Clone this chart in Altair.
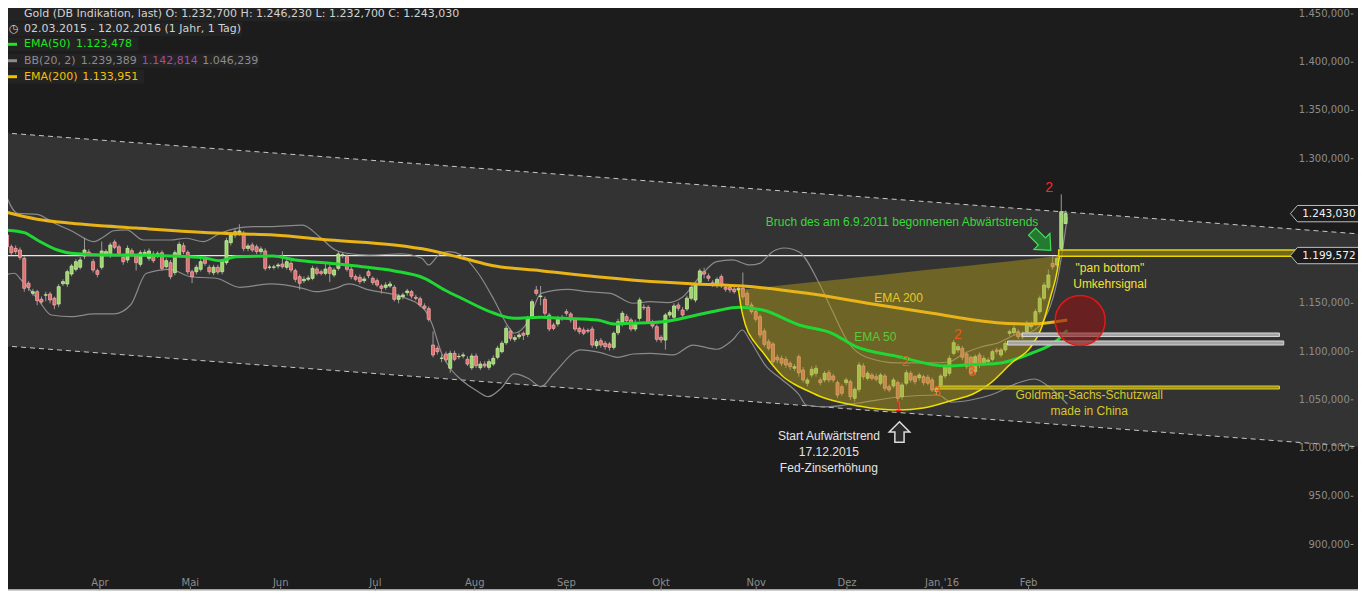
import altair as alt
import pandas as pd

# ---------------- candle data (Gold, daily, 02.03.2015 - 12.02.2016) ----------------
opens = [1220.9,1208.7,1207.0,1205.3,1196.7,1170.8,1160.4,1162.1,1154.2,1158.5,
1159.7,1155.3,1149.3,1170.4,1170.1,1180.4,1185.3,1187.4,1199.1,1203.2,
1193.2,1183.9,1187.4,1201.2,1200.1,1213.6,1208.7,1197.7,1195.0,1204.6,
1199.1,1190.5,1201.2,1196.7,1201.2,1201.9,1202.5,1188.0,1192.2,1181.8,
1199.4,1209.8,1202.9,1182.8,1182.8,1185.3,1196.0,1187.4,1181.8,1187.4,
1182.8,1192.2,1212.9,1220.9,1223.3,1222.6,1207.0,1210.5,1208.7,1203.6,
1204.3,1187.4,1187.4,1188.7,1190.8,1187.4,1191.5,1183.9,1177.7,1173.5,
1175.0,1176.0,1185.6,1182.8,1181.1,1187.0,1179.4,1186.3,1200.1,1198.4,
1185.3,1177.7,1177.0,1173.5,1182.8,1176.0,1173.5,1168.0,1166.6,1168.0,
1166.6,1154.2,1156.9,1161.1,1162.1,1156.3,1154.8,1147.3,1144.5,1106.8,
1103.4,1093.0,1097.5,1082.7,1098.2,1094.7,1095.5,1092.0,1083.3,1095.4,
1083.3,1087.1,1083.7,1087.1,1094.1,1099.9,1109.2,1121.4,1112.7,1115.4,
1119.0,1117.9,1136.9,1163.9,1157.0,1154.2,1137.9,1127.6,1128.6,1134.5,
1141.4,1139.0,1132.8,1124.1,1122.4,1121.9,1123.4,1106.1,1111.3,1108.6,
1107.9,1104.4,1119.6,1128.6,1136.2,1132.8,1123.4,1134.5,1146.0,1145.9,
1131.0,1125.8,1114.8,1112.0,1137.9,1135.6,1148.3,1143.1,1144.2,1155.3,
1153.5,1171.8,1182.8,1178.4,1171.4,1169.0,1177.7,1166.6,1166.6,1164.9,
1163.9,1165.6,1160.4,1148.3,1141.4,1136.2,1121.4,1110.3,1107.9,1094.1,
1093.0,1092.0,1087.9,1082.7,1094.7,1080.9,1067.2,1075.7,1077.5,1070.6,
1070.6,1078.1,1074.7,1067.8,1063.6,1067.8,1068.8,1051.6,1060.9,1085.1,
1072.3,1075.7,1074.0,1067.2,1074.7,1063.6,1064.4,1067.8,1053.2,1067.2,
1077.5,1074.0,1072.9,1074.0,1073.4,1070.6,1058.5,1065.4,1074.7,1077.5,
1098.2,1101.7,1103.4,1097.5,1094.1,1079.2,1096.5,1087.9,1089.6,1092.0,
1101.7,1096.5,1101.7,1119.0,1119.6,1120.6,1115.4,1120.6,1125.8,1129.3,
1141.4,1155.3,1166.6,1191.5,1189.8,1207.0,1232.7]
closes = [1208.7,1202.5,1203.6,1197.7,1165.6,1166.6,1162.1,1152.8,1151.4,1158.9,
1153.5,1148.3,1167.3,1172.5,1182.8,1188.7,1193.2,1195.0,1205.3,1201.2,
1184.6,1180.1,1204.3,1203.6,1210.5,1208.1,1201.9,1193.2,1207.0,1200.1,
1192.2,1202.5,1203.0,1204.3,1194.3,1199.1,1186.3,1194.3,1177.7,1202.5,
1211.2,1203.6,1182.8,1177.7,1187.4,1193.2,1191.5,1182.8,1187.4,1182.5,
1193.2,1215.0,1220.9,1224.3,1225.0,1207.0,1209.5,1205.3,1203.6,1206.4,
1186.3,1187.6,1187.8,1189.8,1188.0,1193.2,1184.6,1175.0,1170.8,1175.0,
1176.3,1186.3,1181.1,1181.1,1185.6,1181.1,1184.6,1201.2,1200.3,1185.3,
1177.7,1175.0,1172.5,1175.3,1178.7,1171.5,1169.0,1165.6,1169.0,1170.1,
1154.2,1157.6,1158.7,1162.8,1157.6,1155.2,1148.3,1144.9,1133.5,1096.5,
1099.9,1093.3,1091.3,1098.2,1092.0,1094.9,1096.5,1087.1,1095.4,1085.4,
1087.1,1085.1,1089.5,1093.0,1103.4,1108.6,1124.2,1113.8,1114.4,1117.2,
1116.9,1134.5,1151.7,1160.4,1157.6,1139.7,1123.4,1124.1,1134.5,1134.8,
1139.7,1132.8,1123.4,1120.6,1119.0,1121.2,1106.8,1110.3,1106.8,1105.1,
1104.4,1119.0,1131.0,1139.7,1132.0,1123.4,1130.0,1153.5,1145.5,1131.0,
1126.5,1112.7,1112.0,1137.9,1140.7,1147.3,1144.9,1137.9,1155.3,1166.6,
1169.0,1183.6,1180.4,1176.0,1169.8,1174.9,1168.3,1164.6,1163.9,1162.1,
1165.6,1156.9,1148.3,1141.4,1133.5,1117.2,1107.5,1103.4,1089.5,1091.3,
1087.9,1086.1,1084.4,1084.4,1078.0,1070.6,1070.6,1081.6,1082.7,1067.8,
1077.5,1070.6,1070.6,1055.0,1056.8,1070.6,1053.2,1060.9,1086.1,1074.0,
1077.5,1072.3,1071.3,1075.7,1061.9,1060.2,1070.6,1051.6,1065.4,1078.1,
1070.6,1068.8,1075.7,1067.8,1067.2,1060.2,1062.0,1074.7,1084.4,1093.0,
1109.2,1105.1,1094.1,1084.4,1077.5,1094.7,1086.1,1093.0,1091.3,1099.9,
1099.9,1101.7,1108.6,1120.6,1124.1,1115.4,1119.0,1129.3,1128.6,1141.4,
1155.3,1169.0,1179.4,1188.0,1196.7,1245.0,1243.03]
highs = [1224,1211,1210,1208,1199,1173,1165,1164,1157,1162,
1162,1157,1170,1175,1185,1191,1196,1198,1218,1206,
1196,1186,1214,1206,1213,1216,1211,1200,1210,1207,
1201,1205,1206,1207,1204,1204,1205,1197,1195,1205,
1214,1213,1205,1185,1190,1196,1199,1190,1190,1190,
1196,1218,1224,1227,1232,1225,1212,1213,1211,1209,
1207,1190,1190,1192,1204,1196,1194,1186,1180,1178,
1179,1189,1188,1185,1192,1190,1187,1204,1203,1201,
1188,1180,1180,1178,1185,1178,1176,1170,1172,1173,
1169,1160,1161,1165,1164,1159,1157,1150,1147,1121,
1106,1097,1100,1101,1101,1098,1099,1095,1098,1098,
1090,1090,1092,1096,1106,1111,1127,1124,1117,1120,
1121,1137,1154,1168,1168,1157,1140,1130,1137,1138,
1144,1141,1135,1126,1125,1124,1126,1113,1114,1111,
1110,1121,1134,1142,1139,1135,1133,1156,1149,1148,
1133,1128,1117,1140,1143,1150,1151,1146,1158,1169,
1171,1186,1187,1181,1174,1177,1180,1169,1169,1167,
1168,1182,1163,1151,1144,1139,1124,1113,1110,1097,
1096,1095,1090,1087,1097,1084,1073,1085,1086,1073,
1080,1081,1077,1070,1066,1073,1071,1063,1089,1088,
1080,1078,1077,1078,1077,1066,1073,1070,1068,1081,
1080,1076,1078,1076,1076,1073,1064,1077,1087,1096,
1112,1108,1106,1100,1096,1097,1099,1096,1094,1102,
1104,1104,1111,1123,1127,1123,1121,1132,1131,1144,
1158,1172,1185,1199,1200,1263,1246.23]
lows = [1206,1200,1201,1195,1162,1163,1158,1148,1149,1152,
1150,1144,1146,1168,1167,1178,1183,1185,1196,1199,
1182,1177,1185,1199,1197,1206,1199,1190,1192,1198,
1184,1188,1199,1194,1192,1197,1184,1186,1175,1179,
1197,1201,1180,1171,1180,1183,1189,1180,1179,1180,
1180,1190,1210,1218,1220,1204,1204,1203,1201,1201,
1184,1185,1185,1186,1186,1185,1182,1172,1164,1171,
1173,1174,1179,1179,1179,1172,1177,1184,1197,1183,
1175,1173,1170,1171,1176,1169,1167,1160,1164,1166,
1152,1150,1154,1158,1155,1153,1146,1143,1131,1094,
1097,1089,1089,1078,1090,1092,1093,1085,1081,1083,
1081,1083,1081,1085,1092,1098,1107,1111,1110,1113,
1112,1115,1135,1158,1148,1137,1121,1122,1126,1132,
1137,1130,1121,1118,1117,1119,1104,1103,1104,1102,
1101,1102,1117,1126,1129,1121,1121,1132,1143,1129,
1124,1110,1109,1102,1135,1133,1142,1135,1142,1153,
1151,1169,1176,1173,1167,1166,1166,1162,1161,1160,
1161,1154,1146,1139,1131,1114,1105,1101,1087,1088,
1085,1083,1081,1080,1074,1068,1064,1073,1074,1065,
1068,1068,1068,1052,1054,1065,1050,1048,1058,1071,
1070,1070,1069,1065,1059,1058,1062,1048,1050,1065,
1068,1066,1070,1065,1065,1058,1055,1063,1072,1075,
1096,1099,1091,1082,1075,1076,1083,1085,1087,1090,
1097,1094,1099,1116,1117,1113,1113,1118,1123,1127,
1139,1153,1164,1185,1187,1205,1232.7]

# ---------------- indicator lines ----------------
ema50_idx = [-0.6,4,7,11.7,15,22.5,30,38,45.6,49.5,53.2,61.8,67,75,82.5,90,97,101.7,
             105.6,113.2,117.8,124,129.4,137.2,141,144.9,152.5,160.3,165,170.2,175.6,
             184.1,191.7,197.3,207.2,218,222.6,230.3,238,244.1,246.4]
ema50_val = [1226.1,1223.3,1215.7,1205.3,1201.9,1200.1,1200.1,1199.1,1197.3,1194.2,1198.4,
             1199.1,1195.0,1191.5,1188.0,1183.6,1176.0,1163.9,1155.3,1139.7,1134.5,1135.6,
             1134.5,1132.8,1128.6,1129.3,1131.0,1137.9,1142.4,1145.9,1143.1,1127.6,1119.0,
             1105.1,1094.7,1085.1,1086.1,1087.9,1098.2,1112.0,1122.4]
ema200_idx = [-0.6,7,15,30,50,62,75,90,98,106,113,124,137,153,160,171,186,200,215,230,238,246.4]
ema200_val = [1245.0,1237.2,1233.0,1228.1,1222.6,1220.9,1215.7,1210.5,1205.3,1196.7,1189.0,
              1183.9,1177.7,1171.8,1170.1,1168.0,1160.4,1150.1,1139.7,1130.0,1128.6,1132.8]
bb_up_idx = [-0.6,2.4,7,11,14.9,20.2,22.5,24.8,27.8,31.7,37.9,41.7,45.6,49.5,53.2,57.1,61.1,
             68.7,72.6,76.3,78.6,84.1,91.8,96.4,98,100.3,102.6,105.6,109.5,113.2,116.5,117.8,
             121.1,124.1,130.3,134.9,140.2,145.5,149.5,153.4,157.1,161,164.9,168.6,172.6,174.9,
             177.9,180.6,184.1,188.7,191.7,195.6,199.6,207.2,214.8,218.7,222.6,226.3,230.3,
             234.2,237.9,241.8,244.1,246.4]
bb_up_val = [1265.8,1243.4,1242.3,1233.0,1225.3,1213.9,1219.1,1225.3,1226.1,1215.7,1215.7,
             1217.5,1213.9,1222.6,1227.8,1229.5,1229.5,1231.2,1219.1,1205.3,1202.2,1200.1,
             1201.2,1196.7,1189.8,1200.1,1203.6,1200.1,1181.2,1153.5,1125.8,1119.0,1131.0,
             1160.4,1164.6,1162.1,1160.4,1150.1,1151.7,1150.7,1156.9,1177.6,1193.2,1195.0,
             1189.8,1191.5,1203.6,1207.4,1203.2,1171.1,1143.1,1108.9,1094.4,1088.2,1088.2,
             1089.2,1098.5,1104.8,1108.9,1117.2,1120.3,1140.0,1174.2,1239.4]
bb_lo_idx = [-0.6,1.7,3.3,7,10.3,14.9,20.2,24.8,28.7,32.4,37.9,42.6,48.6,54.1,61.1,68.7,71.7,
             76.3,79.5,84.1,91.8,97.1,98.7,101,103.3,105.6,109.5,111.8,114.8,117.8,121.1,
             124.1,127.1,133.3,137.9,141.9,145.5,149.5,154.8,159.4,164.9,168.6,170.9,172.6,
             176.5,180.2,184.1,185.7,190.3,197.9,207.2,216.4,219.4,224,228.6,235.6,238.8,
             242.5,246.4]
bb_lo_val = [1179.4,1181.2,1174.2,1155.3,1137.9,1136.2,1139.0,1139.0,1148.3,1181.2,1185.3,
             1177.6,1176.0,1166.6,1170.1,1165.6,1162.1,1165.6,1170.1,1163.9,1156.9,1143.1,
             1129.3,1098.2,1080.9,1070.6,1058.4,1053.3,1061.9,1076.8,1072.3,1063.6,1077.5,
             1101.7,1098.9,1094.1,1097.5,1098.2,1096.5,1106.8,1102.4,1112.0,1122.4,1112.0,
             1084.3,1070.6,1055.0,1044.6,1042.6,1046.7,1052.9,1055.0,1047.7,1049.8,1055.0,
             1068.5,1071.6,1062.3,1045.7]

# trend channel (dashed lines)
channel_idx = [-3, 316]
channel_upper = [1327.5, 1221.4]
channel_lower = [1106.7, 1000.6]

# "pan bottom" bowl
bowl_idx = [170.0,170.5,171.6,173.7,175.6,177.9,180.2,182.9,185.7,188.7,193.3,197.9,202.6,
            207.2,212.9,219.9,224.5,228.0,233.7,237.9,240.2,242.5,244.1,244.6]
bowl_low = [1163.9,1148.3,1127.6,1110.0,1099.6,1086.1,1074.7,1066.4,1060.2,1054.0,1047.7,
            1043.6,1040.5,1039.5,1041.5,1049.8,1056.0,1065.4,1089.2,1104.8,1122.4,1156.6,
            1184.6,1199.1]
bowl_top = [1163.9,1164.1,1164.6,1165.6,1166.5,1167.6,1168.7,1170.0,1171.3,1172.7,1174.8,
            1177.0,1179.2,1181.5,1184.2,1187.4,1189.6,1191.2,1194.0,1196.0,1197.0,1198.2,
            1198.9,1199.1]

# horizontal levels
last_close = 1243.03
level_white = 1199.572
yellow_band = dict(k0=244.4, k1=299.4, v0=1198.8, v1=1205.3)
goldman_band = dict(k0=216.4, k1=295.7, v0=1061.2, v1=1064.3)
gray_bars = pd.DataFrame({"k0": [236.0, 232.5], "k1": [295.7, 296.7],
                          "v0": [1115.6, 1106.8], "v1": [1119.3, 1111.0]})

# axes (1.200,000 and 1.250,000 sit under the price tags in the original)
month_labels = ["Apr", "Mai", "Jun", "Jul", "Aug", "Sep", "Okt", "Nov", "Dez", "Jan '16", "Feb"]
month_pos = [21.6, 42.6, 63.6, 85.6, 108.7, 130.0, 152.0, 174.1, 195.2, 217.3, 237.4]
y_ticks = [900, 950, 1000, 1050, 1100, 1150, 1300, 1350, 1400, 1450]
y_labels = ["900,000", "950,000", "1.000,000", "1.050,000", "1.100,000", "1.150,000",
            "1.300,000", "1.350,000", "1.400,000", "1.450,000"]

# annotations
ann_text = ["Bruch des am 6.9.2011 begonnenen Abwärtstrends", "EMA 200", "EMA 50",
            "\"pan bottom\"", "Umkehrsignal", "Goldman-Sachs-Schutzwall", "made in China",
            "Start Aufwärtstrend", "17.12.2015", "Fed-Zinserhöhung"]
ann_k = [208.0, 207.2, 201.8, 256.3, 256.3, 251.5, 251.5, 191.0, 191.0, 191.0]
ann_v = [1234.4, 1155.6, 1115.1, 1186.7, 1170.1, 1055.0, 1038.4, 1012.5, 995.9, 979.3]
ann_color = ["#3ad83a", "#e8c828", "#5cc83c", "#f2e232", "#f2e232", "#d8c82a", "#d8c82a",
             "#e4e4e4", "#e4e4e4", "#e4e4e4"]
cnt_text = ["2", "2", "2", "3", "3", "1"]
cnt_k = [242.2, 221.0, 208.8, 224.2, 216.1, 207.2]
cnt_v = [1269.6, 1117.2, 1089.2, 1078.8, 1058.1, 1042.6]
cnt_color = ["#ff2424", "#f0561e", "#f0561e", "#f0561e", "#f0561e", "#ff3020"]

# legend block
leg_rows = [
    [("Gold (DB Indikation, last)  O: 1.232,700  H: 1.246,230  L: 1.232,700  C: 1.243,030", 16, "#d2d2d2")],
    [("◷", 1, "#d2d2d2"), ("02.03.2015 - 12.02.2016 (1 Jahr, 1 Tag)", 16, "#d2d2d2")],
    [("EMA(50)", 16, "#1ee61e"), ("1.123,478", 68, "#1ee61e")],
    [("BB(20, 2)", 16, "#8c8c8c"), ("1.239,389", 72.7, "#8c8c8c"), ("1.142,814", 133.7, "#a050a0"),
     ("1.046,239", 194.3, "#8c8c8c")],
    [("EMA(200)", 16, "#f5c000"), ("1.133,951", 74.3, "#f5c000")],
]
leg_row_y = [6.3, 21.3, 36.3, 52.7, 68.7]
leg_row_w = [345, 234, 130, 251, 136]
leg_dash_color = [None, None, "#1ee61e", "#8c8c8c", "#f5c000"]

# ---------------- build ----------------
W, H = 1350, 583
X = alt.Scale(domain=[1.384, 312.80], nice=False, zero=False)
Y = alt.Scale(domain=[851.8, 1456.2], nice=False, zero=False)

def xe(f):
    return alt.X(f, type="quantitative", scale=X, axis=None)

def ye(f):
    return alt.Y(f, type="quantitative", scale=Y, axis=None)

chan = pd.DataFrame({"k": channel_idx, "up": channel_upper, "lo": channel_lower})
band = alt.Chart(chan).mark_area(color="#333333").encode(x=xe("k"), y=ye("lo"), y2="up")
dash_up = alt.Chart(chan).mark_line(color="#c8c8c8", strokeWidth=1, strokeDash=[5, 4]).encode(
    x=xe("k"), y=ye("up"))
dash_lo = alt.Chart(chan).mark_line(color="#c8c8c8", strokeWidth=1, strokeDash=[5, 4]).encode(
    x=xe("k"), y=ye("lo"))

# y axis (labels inside the right edge, tick dash to their right)
ydf = pd.DataFrame({"v": y_ticks, "t": y_labels, "kl": 312.05, "k0": 312.25, "k1": 312.9})
ylab = alt.Chart(ydf).mark_text(font="DejaVu Sans", fontSize=10, color="#8c8c8c",
                                align="right", baseline="middle").encode(
    x=xe("kl"), y=ye("v"), text="t:N")
ytick = alt.Chart(ydf).mark_rule(color="#8c8c8c", strokeWidth=1).encode(
    x=xe("k0"), x2="k1", y=ye("v"))

# x axis (labels above the bottom line, ticks pointing up)
xdf = pd.DataFrame({"k": month_pos, "t": month_labels, "vl": 860.6, "v0": 852.5, "v1": 856.5})
xlab = alt.Chart(xdf).mark_text(font="DejaVu Sans", fontSize=10, color="#8c8c8c",
                                align="center", baseline="middle").encode(
    x=xe("k"), y=ye("vl"), text="t:N")
xtick = alt.Chart(xdf).mark_rule(color="#8c8c8c", strokeWidth=1).encode(
    x=xe("k"), y=ye("v0"), y2="v1")
xdom = alt.Chart(pd.DataFrame({"k0": [-3], "k1": [316], "v": [852.6]})).mark_rule(
    color="#d0d0d0", strokeWidth=2).encode(x=xe("k0"), x2="k1", y=ye("v"))

white = alt.Chart(pd.DataFrame({"k0": [-3], "k1": [244.4], "v": [level_white]})).mark_rule(
    color="#e8e8e8", strokeWidth=1.2).encode(x=xe("k0"), x2="k1", y=ye("v"))

bbu = alt.Chart(pd.DataFrame({"k": bb_up_idx, "v": bb_up_val})).mark_line(
    color="#8a8a8a", strokeWidth=1.2, interpolate="monotone").encode(x=xe("k"), y=ye("v"))
bbl = alt.Chart(pd.DataFrame({"k": bb_lo_idx, "v": bb_lo_val})).mark_line(
    color="#8a8a8a", strokeWidth=1.2, interpolate="monotone").encode(x=xe("k"), y=ye("v"))

n = len(closes)
cdf = pd.DataFrame({"i": list(range(n)), "open": opens, "close": closes, "high": highs, "low": lows})
cdf["dir"] = ["up" if c >= o else "down" for o, c in zip(opens, closes)]
wicks = alt.Chart(cdf).mark_rule(color="#9a9a9a", strokeWidth=1).encode(
    x=xe("i"), y=ye("low"), y2="high")
bodies = alt.Chart(cdf).mark_bar(size=3, strokeWidth=0.8).encode(
    x=xe("i"), y=ye("open"), y2="close",
    fill=alt.Fill("dir:N", scale=alt.Scale(domain=["up", "down"], range=["#9cd46c", "#e07070"]), legend=None),
    stroke=alt.Stroke("dir:N", scale=alt.Scale(domain=["up", "down"], range=["#c8f0a0", "#f4a8a8"]), legend=None))

bdf = pd.DataFrame({"k": bowl_idx, "lo": bowl_low, "top": bowl_top})
bowl = alt.Chart(bdf).mark_area(color="#b4a014", opacity=0.45).encode(
    x=xe("k"), y=ye("lo"), y2="top")
bowl_line = alt.Chart(bdf).mark_line(color="#f0e000", strokeWidth=1.5, interpolate="monotone").encode(
    x=xe("k"), y=ye("lo"))

e200 = alt.Chart(pd.DataFrame({"k": ema200_idx, "v": ema200_val})).mark_line(
    color="#e8b418", strokeWidth=3, interpolate="monotone").encode(x=xe("k"), y=ye("v"))
e50 = alt.Chart(pd.DataFrame({"k": ema50_idx, "v": ema50_val})).mark_line(
    color="#20d835", strokeWidth=3, interpolate="monotone").encode(x=xe("k"), y=ye("v"))

ybd = alt.Chart(pd.DataFrame([yellow_band])).mark_rect(
    fill="#8a7c12", fillOpacity=0.7, stroke="#e8d800", strokeWidth=1.5).encode(
    x=xe("k0"), x2="k1", y=ye("v0"), y2="v1")
gsd = alt.Chart(pd.DataFrame([goldman_band])).mark_rect(
    fill="#b8a820", fillOpacity=0.8, stroke="#e0d020", strokeWidth=1).encode(
    x=xe("k0"), x2="k1", y=ye("v0"), y2="v1")
gbars = alt.Chart(gray_bars).mark_rect(
    fill="#a4a4a4", stroke="#d8d8d8", strokeWidth=1).encode(
    x=xe("k0"), x2="k1", y=ye("v0"), y2="v1")

circle = alt.Chart(pd.DataFrame({"k": [249.4], "v": [1132.2]})).mark_point(
    shape="circle", size=2500, filled=True, fill="#8c1414", fillOpacity=0.6,
    stroke="#e01818", strokeWidth=1.5, opacity=1).encode(x=xe("k"), y=ye("v"))

arrow_down = "M -0.38 -1 L 0.38 -1 L 0.38 0.05 L 0.85 0.05 L 0 1 L -0.85 0.05 L -0.38 0.05 Z"
garrow = alt.Chart(pd.DataFrame({"k": [240.4], "v": [1214.7]})).mark_point(
    shape=arrow_down, size=700, angle=315, filled=True, fill="#237a30", stroke="#44e05a",
    strokeWidth=1.2, opacity=1).encode(x=xe("k"), y=ye("v"))
arrow_up = "M 0 -1 L 1 0 L 0.45 0 L 0.45 1 L -0.45 1 L -0.45 0 L -1 0 Z"
warrow = alt.Chart(pd.DataFrame({"k": [207.4], "v": [1016.6]})).mark_point(
    shape=arrow_up, size=420, filled=True, fill="#2c2c2c", stroke="#dcdcdc",
    strokeWidth=1.5, opacity=1).encode(x=xe("k"), y=ye("v"))

# annotation texts: one layer per colour, colour given as a constant
text_layers = []
adf = pd.DataFrame({"k": ann_k, "v": ann_v, "t": ann_text, "c": ann_color})
for col, sub in adf.groupby("c", sort=False):
    text_layers.append(alt.Chart(sub).mark_text(
        font="Liberation Sans", fontSize=12, align="center", baseline="middle", color=col).encode(
        x=xe("k"), y=ye("v"), text="t:N"))
cntdf = pd.DataFrame({"k": cnt_k, "v": cnt_v, "t": cnt_text, "c": cnt_color})
for col, sub in cntdf.groupby("c", sort=False):
    text_layers.append(alt.Chart(sub).mark_text(
        font="Liberation Sans", fontSize=14, align="center", baseline="middle", color=col).encode(
        x=xe("k"), y=ye("v"), text="t:N"))

# price tags at right
box_path = "M -1 0 L -0.8 -0.23 L 1 -0.23 L 1 0.23 L -0.8 0.23 Z"
pdf = pd.DataFrame({"k": [306.5, 306.5], "v": [last_close, level_white],
                    "t": ["1.243,030", "1.199,572"]})
tags = alt.Chart(pdf).mark_point(shape=box_path, size=5041, filled=True, fill="#1c1c1c",
                                 stroke="#bdbdbd", strokeWidth=1, opacity=1).encode(x=xe("k"), y=ye("v"))
tagt = alt.Chart(pdf.assign(k=307.2)).mark_text(font="DejaVu Sans", fontSize=10.5, color="#f2f2f2",
                                              align="center", baseline="middle").encode(
    x=xe("k"), y=ye("v"), text="t:N")

# legend (fixed pixel positions, like the original overlay legend)
one = pd.DataFrame({"a": [0]})
legend_layers = []
for row, yy, ww, dc in zip(leg_rows, leg_row_y, leg_row_w, leg_dash_color):
    legend_layers.append(alt.Chart(one).mark_rect(color="#232323").encode(
        x=alt.value(-3), x2=alt.value(ww), y=alt.value(max(yy - 7, 0)), y2=alt.value(yy + 7)))
    if dc:
        legend_layers.append(alt.Chart(one).mark_rect(color=dc).encode(
            x=alt.value(0), x2=alt.value(9), y=alt.value(yy - 1.5), y2=alt.value(yy + 1.5)))
    for txt, xx, col in row:
        legend_layers.append(alt.Chart(one).mark_text(
            text=txt, font="DejaVu Sans", fontSize=11, align="left", baseline="middle", color=col
        ).encode(x=alt.value(xx), y=alt.value(yy)))

chart = alt.layer(
    band, dash_up, dash_lo, ylab, ytick, xdom, xtick, xlab, white, bbu, bbl, wicks, bodies,
    bowl, e200, e50, bowl_line, ybd, gsd, gbars, circle, garrow, warrow, *text_layers,
    tags, tagt, *legend_layers
).properties(
    width=W, height=H, autosize=alt.AutoSizeParams(type="none"), padding=0
).configure(background="#1c1c1c").configure_view(stroke=None)

chart.save("out.html", embed_options={"renderer": "svg", "actions": False})
